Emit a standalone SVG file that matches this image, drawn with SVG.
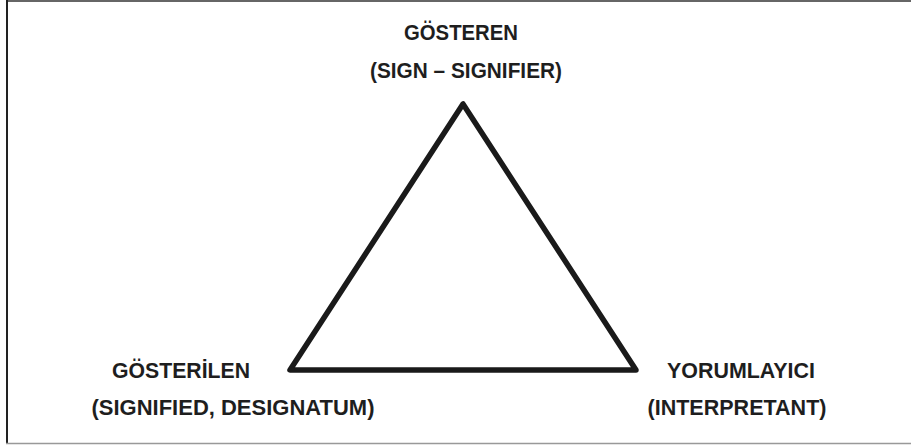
<svg xmlns="http://www.w3.org/2000/svg" width="911" height="445" viewBox="0 0 911 445">
<style>
.t{font-family:"Liberation Sans",Arial,sans-serif;font-weight:bold;font-size:21.5px;fill:#1e1e1e;text-anchor:middle}
</style>
<rect width="911" height="445" fill="#fff"/>
<g id="frame">
<line x1="6" y1="1" x2="911" y2="1" stroke="#666" stroke-width="2"/>
<line x1="7" y1="0" x2="7" y2="444" stroke="#222" stroke-width="2"/>
<line x1="6" y1="443.5" x2="911" y2="443.5" stroke="#999" stroke-width="1.5"/>
</g>
<g id="connectors">
<path d="M463,104 L290,370 L636,370 Z" fill="none" stroke="#1a1a1a" stroke-width="5.5" stroke-linejoin="round"/>
</g>
<g id="node-gosteren">
<text class="t" x="461" y="40" textLength="114" lengthAdjust="spacingAndGlyphs">GÖSTEREN</text>
<text class="t" x="466" y="78" textLength="192" lengthAdjust="spacingAndGlyphs">(SIGN – SIGNIFIER)</text>
</g>
<g id="node-gosterilen">
<text class="t" x="181" y="378" textLength="138" lengthAdjust="spacingAndGlyphs">GÖSTERİLEN</text>
<text class="t" x="233" y="415" textLength="283" lengthAdjust="spacingAndGlyphs">(SIGNIFIED, DESIGNATUM)</text>
</g>
<g id="node-yorumlayici">
<text class="t" x="741" y="378" textLength="148" lengthAdjust="spacingAndGlyphs">YORUMLAYICI</text>
<text class="t" x="737" y="415" textLength="179" lengthAdjust="spacingAndGlyphs">(INTERPRETANT)</text>
</g>
</svg>
